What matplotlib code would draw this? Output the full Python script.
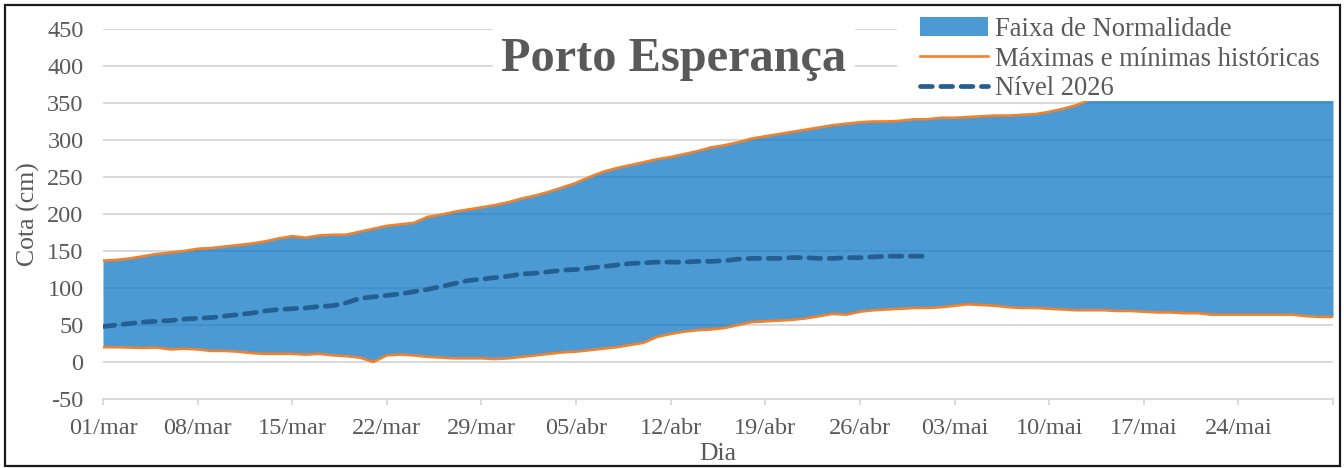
import matplotlib
matplotlib.use("Agg")
import matplotlib.pyplot as plt
from matplotlib.patches import Rectangle
import numpy as np
import pandas as pd

# daily values, 01/mar .. 31/mai (cm)
hist_max = [137, 138, 140, 143, 146, 148, 150, 153, 154, 156,
            158, 160, 163, 167, 170, 168, 171, 172, 172, 176,
            180, 184, 186, 188, 196, 199, 203, 206, 209, 212,
            216, 221, 225, 230, 236, 242, 250, 257, 262, 266,
            270, 274, 277, 281, 285, 290, 293, 297, 302, 305,
            308, 311, 314, 317, 320, 322, 324, 325, 325, 326,
            328, 328, 330, 330, 331, 332, 333, 333, 334, 335,
            338, 342, 347, 354, 362, 370, 378, 385, 390, 394,
            397, 399, 401, 402, 403, 404, 405, 405, 405, 404,
            403, 402]
hist_min = [20, 20, 19.5, 19, 19.5, 17, 18, 17, 15, 15,
            14, 12, 11, 11, 11, 10, 11, 9, 8, 6,
            0, 9, 10, 9, 7, 6, 5, 5, 5, 4,
            5, 7, 9, 11, 13, 14, 16, 18, 20, 23,
            26, 34, 38, 41, 43, 44, 46, 50, 54, 55,
            56, 57, 59, 62, 65, 64, 68, 70, 71, 72,
            73, 73, 74, 76, 78, 77, 76, 74, 73, 73,
            72, 71, 70, 70, 70, 69, 69, 68, 67, 67,
            66, 66, 64, 64, 64, 64, 64, 64, 64, 62,
            61, 61]
nivel_2026 = [48, 50, 52, 54, 55, 56, 58, 59, 60, 62,
              64, 66, 69, 71, 72, 73, 75, 76, 80, 86,
              88, 90, 92, 95, 98, 102, 106, 110, 112, 114,
              116, 119, 120, 122, 124, 125, 127, 129, 131, 133,
              134, 135, 135, 135, 136, 136, 137, 139, 140, 140,
              140, 141, 141, 140, 140, 141, 141, 142, 143, 143,
              143, 143]

tick_labels = ["01/mar", "08/mar", "15/mar", "22/mar", "29/mar", "05/abr",
               "12/abr", "19/abr", "26/abr", "03/mai", "10/mai", "17/mai",
               "24/mai", ""]

dias = pd.date_range("2026-03-01", periods=len(hist_max), freq="D")

plt.rcParams['font.family'] = ['Liberation Serif', 'DejaVu Serif']
plt.rcParams['axes.unicode_minus'] = False
txt = '#595959'
grid = '#D9D9D9'

fig = plt.figure(figsize=(13.44, 4.68), dpi=100)
ax = fig.add_axes([103 / 1344, 1 - 399 / 468, 1230 / 1344, 370 / 468])

ax.fill_between(dias, hist_min, hist_max, color=(14 / 255, 120 / 255, 198 / 255),
                alpha=0.75, linewidth=0, zorder=2, label="Faixa de Normalidade")
ax.plot(dias, hist_max, color='#F0822E', lw=1.9, zorder=3,
        label="Máximas e mínimas históricas")
ax.plot(dias, hist_min, color='#F0822E', lw=1.9, zorder=3)
ax.plot(dias[:len(nivel_2026)], nivel_2026, color='#255E91', lw=3.4,
        dashes=(2.5, 1.8), dash_capstyle='round', zorder=4, label="Nível 2026")

ax.set_ylim(-50, 450)
ax.set_yticks(np.arange(-50, 451, 50))
ax.set_xlim(dias[0], dias[-1])
ax.set_xticks(dias[::7])
ax.set_xticklabels(tick_labels)

ax.grid(axis='y', color=grid, lw=1.4, zorder=1)
ax.set_axisbelow(True)
for s in ['left', 'right', 'top']:
    ax.spines[s].set_visible(False)
ax.spines['bottom'].set_color(grid)
ax.spines['bottom'].set_linewidth(1.4)
ax.tick_params(axis='y', length=0, pad=14, labelsize=17.5, labelcolor=txt)
ax.tick_params(axis='x', length=4.5, width=1.4, color=grid, pad=9,
               labelsize=17.5, labelcolor=txt)

ax.set_xlabel("Dia", fontsize=18.5, color=txt, labelpad=3)
ax.set_ylabel("Cota (cm)", fontsize=18.5, color=txt, labelpad=5)

# white box behind the legend (covers the band, as in the original)
ax.add_patch(Rectangle((0.6455, 0.805), 0.36, 0.25, transform=ax.transAxes,
                       facecolor='white', edgecolor='none', zorder=6,
                       clip_on=False))
leg = fig.legend(loc='upper left', bbox_to_anchor=(920 / 1344, 1 - 17 / 468),
                 frameon=False, fontsize=19.2, handlelength=2.55,
                 handletextpad=0.26, labelspacing=0.17, borderpad=0,
                 borderaxespad=0)
for t in leg.get_texts():
    t.set_color(txt)

fig.text(674 / 1344, 1 - 71 / 468, "Porto Esperança", fontsize=34.8,
         fontweight='bold', color=txt, ha='center', va='baseline',
         bbox=dict(facecolor='white', edgecolor='none',
                   boxstyle='square,pad=0.18'))

fig.patches.append(Rectangle((5 / 1344, 2 / 468), 1335 / 1344, 461 / 468,
                             transform=fig.transFigure, fill=False,
                             edgecolor='#1a1a1a', lw=1.6))

fig.savefig("out.png", dpi=100)
